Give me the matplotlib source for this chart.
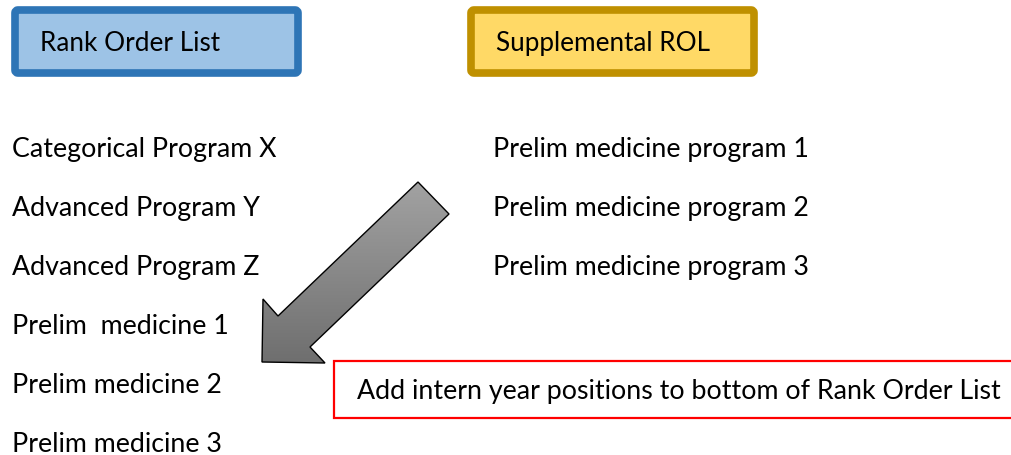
import matplotlib
matplotlib.use("Agg")
import matplotlib.pyplot as plt
import numpy as np
from matplotlib.patches import Rectangle, FancyBboxPatch, Polygon
from matplotlib.colors import LinearSegmentedColormap

# ---- contents ----
left_header = "Rank Order List"
right_header = "Supplemental ROL"
left_items = ["Categorical Program X", "Advanced Program Y", "Advanced Program Z",
              "Prelim  medicine 1", "Prelim medicine 2", "Prelim medicine 3"]
right_items = ["Prelim medicine program 1", "Prelim medicine program 2",
               "Prelim medicine program 3"]
note = "Add intern year positions to bottom of Rank Order List"

W, H = 1011, 456
plt.rcParams['font.family'] = ['Lato', 'DejaVu Sans']

fig = plt.figure(figsize=(W / 100, H / 100), dpi=100)
ax = fig.add_axes([0, 0, 1, 1])
ax.set_xlim(0, W)
ax.set_ylim(H, 0)
ax.axis('off')


# header boxes
def header_box(x0, x1, y0, y1, face, edge, label):
    ax.add_patch(FancyBboxPatch((x0, y0), x1 - x0, y1 - y0,
                                boxstyle="round,pad=0,rounding_size=3",
                                fc=face, ec=edge, lw=5.5, joinstyle='round'))
    ax.text(x0 + 25, (y0 + y1) / 2 + 1, label, fontsize=18.8, va='center', ha='left',
            color='black')


header_box(15, 298, 11, 74, '#9dc3e6', '#2e75b6', left_header)
header_box(471, 754, 11, 74, '#ffd966', '#bf9000', right_header)

# lists
row_y = 150 + 59 * np.arange(len(left_items))
for y, t in zip(row_y, left_items):
    ax.text(12, y, t, fontsize=19.3, va='center', ha='left', color='black')
for y, t in zip(row_y, right_items):
    ax.text(493, y, t, fontsize=19.3, va='center', ha='left', color='black')

# gradient arrow
arrow_pts = [(418, 183), (449, 215), (310, 348), (325, 364),
             (262, 363), (263, 300), (278, 317)]
poly = Polygon(arrow_pts, closed=True, fc='none', ec='black', lw=1.0, zorder=3)
ax.add_patch(poly)
grad = np.linspace(0, 1, 256).reshape(-1, 1)
cmap = LinearSegmentedColormap.from_list('g', ['#6e6e6e', '#a3a3a3'])
img = ax.imshow(grad, cmap=cmap, extent=(260, 452, 180, 366), aspect='auto',
                origin='upper', zorder=2)
img.set_clip_path(Polygon(arrow_pts, closed=True, transform=ax.transData))
ax.set_xlim(0, W)
ax.set_ylim(H, 0)

# note box
ax.add_patch(Rectangle((334, 362), 700, 57, fc='white', ec='#ff0000', lw=1.6, zorder=4))
ax.text(357, 392, note, fontsize=19.3, va='center', ha='left', color='black', zorder=5)

fig.savefig("out.png", dpi=100)
